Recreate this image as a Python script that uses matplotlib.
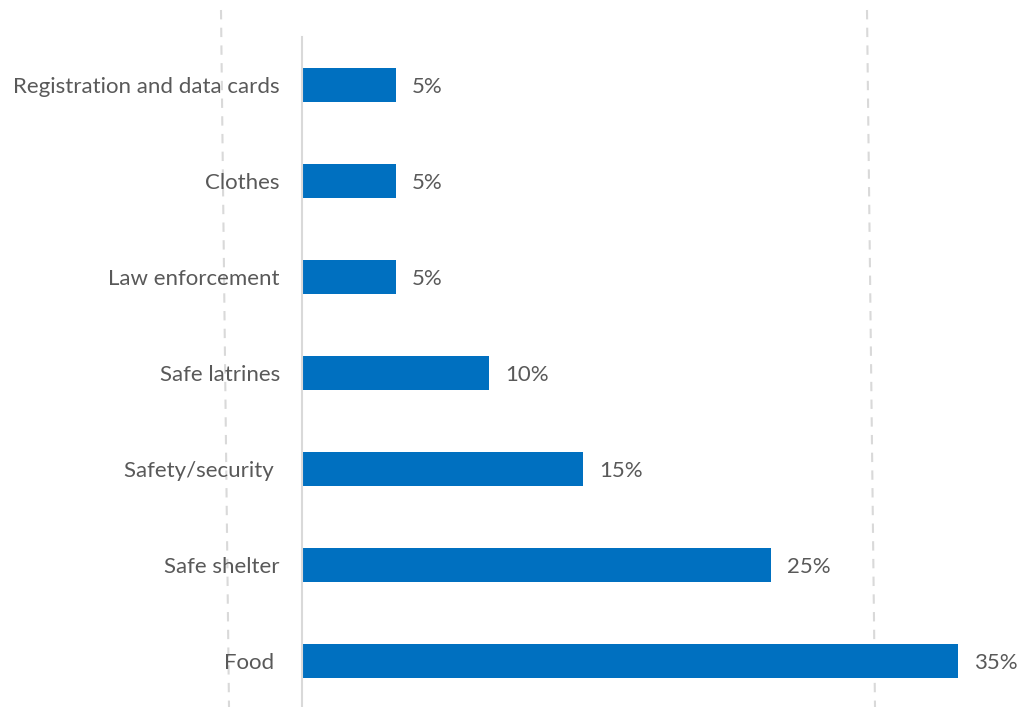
import matplotlib
matplotlib.use("Agg")
import matplotlib.pyplot as plt
from matplotlib.lines import Line2D

categories = ["Food ", "Safe shelter", "Safety/security ", "Safe latrines",
              "Law enforcement", "Clothes", "Registration and data cards"]
values = [35, 25, 15, 10, 5, 5, 5]
value_labels = ["35%", "25%", "15%", "10%", "5%", "5%", "5%"]

plt.rcParams['font.family'] = ['Lato', 'DejaVu Sans']

W, H = 1021, 707
fig = plt.figure(figsize=(W / 100, H / 100), dpi=100)
ax = fig.add_axes([302 / W, -2 / H, (W - 302) / W, 672 / H])
ax.set_zorder(2)
ax.patch.set_alpha(0)

bar_color = "#0070C0"
text_color = "#595959"
ypos = list(range(len(categories)))
ax.barh(ypos, values, height=0.35, color=bar_color)
ax.set_ylim(-0.5, len(categories) - 0.5)
ax.set_xlim(0, 38.35)
ax.set_yticks(ypos)
ax.set_yticklabels(categories, fontsize=16, color=text_color)
ax.tick_params(axis='y', length=0, pad=16)
ax.set_xticks([])
for s in ["top", "right", "bottom"]:
    ax.spines[s].set_visible(False)
ax.spines["left"].set_color("#D9D9D9")
ax.spines["left"].set_linewidth(1.5)

for y, v, lab in zip(ypos, values, value_labels):
    ax.annotate(lab, (v, y), xytext=(11.5, 0), textcoords="offset points",
                ha="left", va="center_baseline", fontsize=16, color=text_color)

# decorative dashed guide lines (behind the plot)
for x0, x1 in [(221, 229), (867, 875)]:
    fig.add_artist(Line2D([x0 / W, x1 / W], [1 - 10 / H, 0], transform=fig.transFigure,
                          color="#D9D9D9", lw=1.5, linestyle=(0, (4.5, 4)), zorder=1))

fig.savefig("out.png", dpi=100)
